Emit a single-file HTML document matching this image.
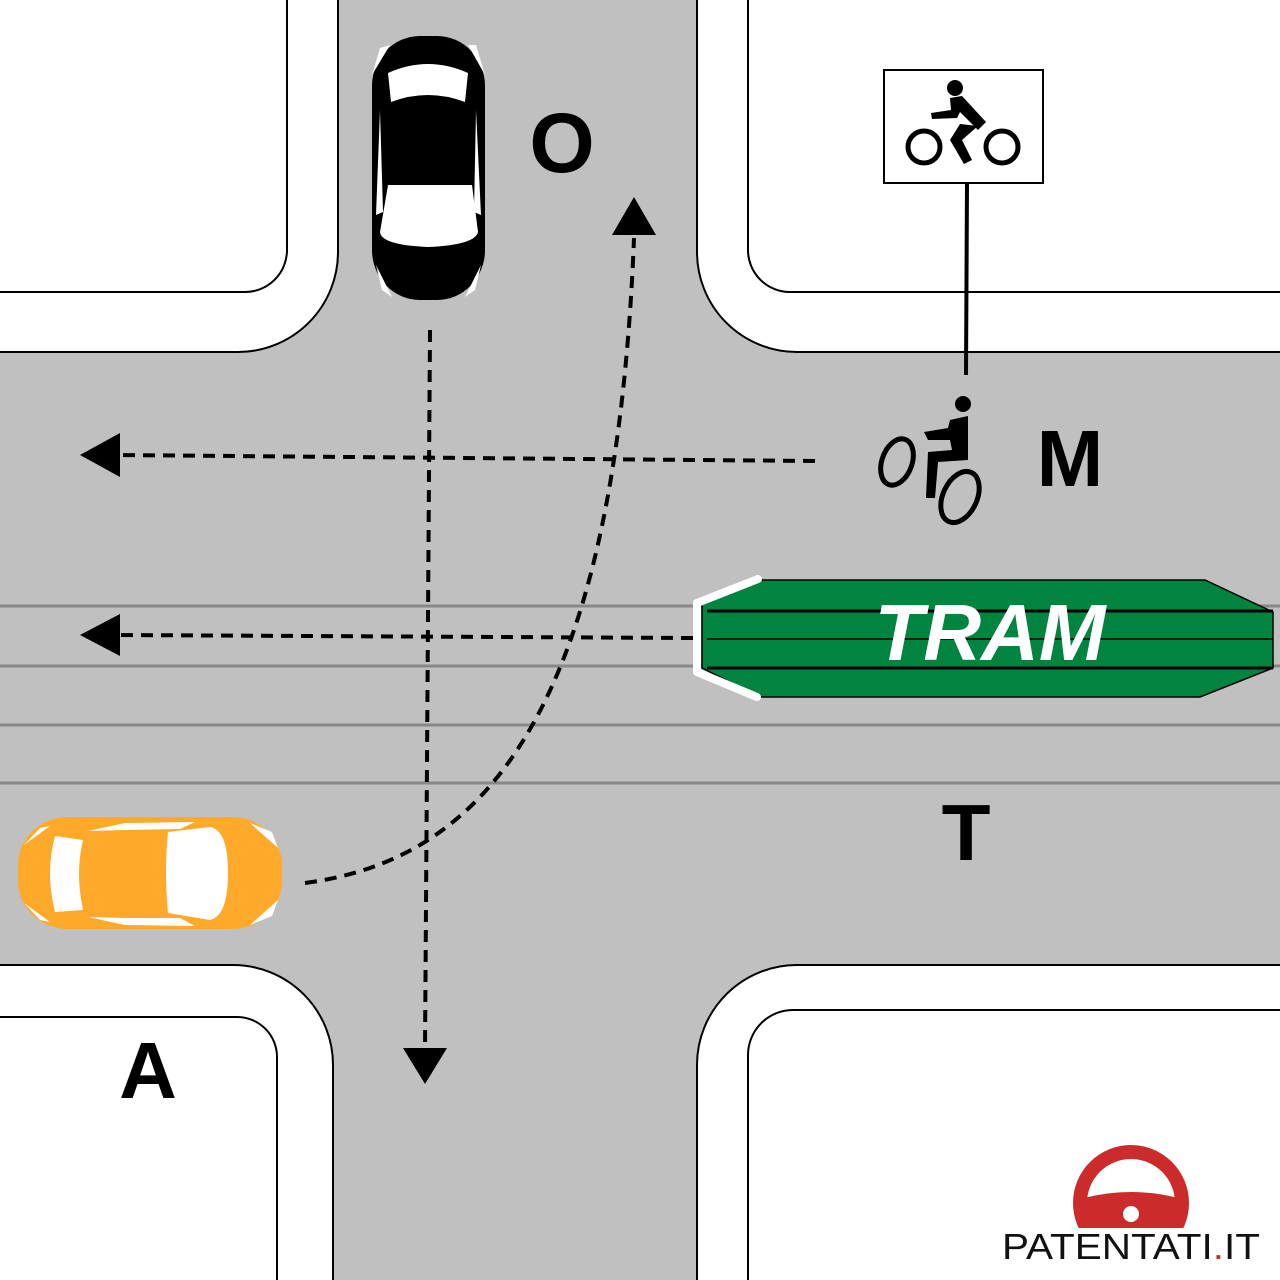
<!DOCTYPE html>
<html><head><meta charset="utf-8"><style>html,body{margin:0;padding:0;background:#fff}svg{display:block}</style></head>
<body>
<svg width="1280" height="1280" viewBox="0 0 1280 1280" xmlns="http://www.w3.org/2000/svg">
<defs><clipPath id="lc"><rect x="1060" y="1130" width="150" height="98"/></clipPath></defs>
<rect width="1280" height="1280" fill="#c0c0c0"/>
<!-- corners -->
<g fill="#fff">
<path d="M0,0 H338 V252 A100,100 0 0 1 238,352 H0 Z"/>
<path d="M697,0 V252 A100,100 0 0 0 797,352 H1280 V0 Z"/>
<path d="M0,965 H233 A100,100 0 0 1 333,1065 V1280 H0 Z"/>
<path d="M1280,965 H797 A100,100 0 0 0 697,1065 V1280 H1280 Z"/>
</g>
<g fill="none" stroke="#000" stroke-width="2">
<path d="M338,0 V252 A100,100 0 0 1 238,352 H0"/>
<path d="M697,0 V252 A100,100 0 0 0 797,352 H1280"/>
<path d="M0,965 H233 A100,100 0 0 1 333,1065 V1280"/>
<path d="M1280,965 H797 A100,100 0 0 0 697,1065 V1280"/>
<path d="M287,0 V250 A42,42 0 0 1 245,292 H0"/>
<path d="M748,0 V250 A42,42 0 0 0 790,292 H1280"/>
<path d="M0,1017 H237 A40,40 0 0 1 277,1057 V1280"/>
<path d="M1280,1010 H793 A45,45 0 0 0 748,1055 V1280"/>
</g>
<!-- rails -->
<g stroke="#888" stroke-width="3">
<line x1="0" y1="606" x2="1280" y2="606"/>
<line x1="0" y1="666" x2="1280" y2="666"/>
<line x1="0" y1="725" x2="1280" y2="725"/>
<line x1="0" y1="783" x2="1280" y2="783"/>
</g>
<!-- tram -->
<polygon points="702,598 760,580 1205,580 1273,612 1273,668 1200,697 760,697 702,668" fill="#00843f" stroke="#000" stroke-width="1.5"/>
<g stroke="#000">
<line x1="707" y1="611" x2="1273" y2="611" stroke-width="3"/>
<line x1="707" y1="639" x2="1273" y2="639" stroke-width="1.5"/>
<line x1="707" y1="668" x2="1273" y2="668" stroke-width="3"/>
</g>
<polyline points="758,579 697,603 697,672 757,697" fill="none" stroke="#fff" stroke-width="8" stroke-linecap="round" stroke-linejoin="round"/>
<text x="990" y="660" text-anchor="middle" font-family="Liberation Sans, sans-serif" font-weight="bold" font-style="italic" font-size="80" fill="#fff">TRAM</text>
<!-- dashed paths -->
<g fill="none" stroke="#000" stroke-width="4" stroke-dasharray="12 8">
<path d="M815,461 L115,455"/>
<path d="M693,638 L115,635"/>
<path d="M430,330 L425,1050"/>
<path d="M305,883 C480,860 615,720 634,238"/>
</g>
<g fill="#000">
<polygon points="80,455 120,433 120,477"/>
<polygon points="80,635 120,614 120,656"/>
<polygon points="403,1048 447,1048 425,1084"/>
<polygon points="612,235 656,235 634,197"/>
</g>
<!-- black car -->
<g>
<rect x="372" y="36" width="113" height="264" rx="48" ry="50" fill="#000"/>
<path d="M388,73 Q428,55 468,73 L465,102 Q428,88 391,102 Z" fill="#fff"/>
<path d="M388,185 L472,185 L478,232 Q475,245 428,247 Q381,245 380,232 Z" fill="#fff"/>
<path d="M380,110 L376,215 L383,212 Z" fill="#fff"/>
<path d="M476,110 L481,215 L474,212 Z" fill="#fff"/>
<path d="M380,48 L372,75 L390,45 Z M476,45 L485,75 L468,45 Z" fill="#fff"/>
<path d="M376,265 L392,297 L382,290 Z M481,265 L465,297 L475,290 Z" fill="#fff"/>
</g>
<!-- orange car -->
<g>
<rect x="18" y="817" width="264" height="112" rx="50" ry="48" fill="#ffa92b"/>
<path d="M55,836 Q45,873 55,912 L83,910 Q75,873 83,840 Z" fill="#fff"/>
<path d="M168,832 L210,827 Q228,830 228,873 Q228,916 210,920 L168,913 Q164,873 168,832 Z" fill="#fff"/>
<path d="M88,831 L125,823 L195,822 L180,829 L125,830 Z" fill="#fff"/>
<path d="M88,917 L125,925 L195,926 L180,918 L125,918 Z" fill="#fff"/>
<path d="M250,823 L278,848 L272,832 Z M250,925 L278,900 L272,916 Z" fill="#fff"/>
<path d="M24,845 L40,828 L50,826 Z M24,903 L40,920 L50,922 Z" fill="#fff"/>
</g>
<!-- sign -->
<line x1="967" y1="183" x2="966" y2="375" stroke="#000" stroke-width="4"/>
<rect x="884" y="70" width="159" height="113" fill="#fff" stroke="#000" stroke-width="2"/>
<g fill="none" stroke="#000" stroke-width="5">
<circle cx="924" cy="147" r="16"/>
<circle cx="1002" cy="147" r="16"/>
</g>
<g fill="#000">
<circle cx="955" cy="88" r="8"/>
<path d="M950,98 L962,96 L986,122 L978,130 L960,112 L957,118 L932,119 L931,113 L951,110 Z"/>
<path d="M960,124 L978,126 L962,140 L972,160 L964,164 L950,140 Z"/>
</g>
<!-- motorcyclist -->
<g>
<ellipse cx="897" cy="462" rx="15" ry="24" transform="rotate(20 897 462)" fill="none" stroke="#000" stroke-width="5"/>
<ellipse cx="960" cy="497" rx="17" ry="27" transform="rotate(25 960 497)" fill="none" stroke="#000" stroke-width="5"/>
<circle cx="963" cy="404" r="8" fill="#000"/>
<path d="M950,420 L968,416 L968,460 L938,462 L935,498 L926,498 L928,452 L952,450 L950,440 L928,440 L924,432 L948,428 Z" fill="#000"/>
</g>
<!-- labels -->
<g font-family="Liberation Sans, sans-serif" font-weight="bold" fill="#000">
<text x="562" y="172" text-anchor="middle" font-size="84">O</text>
<text x="1070" y="486" text-anchor="middle" font-size="80">M</text>
<text x="966" y="860" text-anchor="middle" font-size="80">T</text>
<text x="148" y="1098" text-anchor="middle" font-size="80">A</text>
</g>
<!-- logo -->
<g clip-path="url(#lc)">
<circle cx="1131" cy="1203" r="51" fill="none" stroke="#cc2b2b" stroke-width="14"/>
<path d="M1084,1198 Q1131,1186 1178,1198 L1182,1230 L1080,1230 Z" fill="#cc2b2b"/>
</g>
<circle cx="1131" cy="1214" r="8" fill="#fff"/>
<text x="1002" y="1259" textLength="258" lengthAdjust="spacingAndGlyphs" font-family="Liberation Sans, sans-serif" font-size="36" fill="#111">PATENTATI<tspan fill="#cc2b2b">.</tspan>IT</text>
</svg>
</body></html>
